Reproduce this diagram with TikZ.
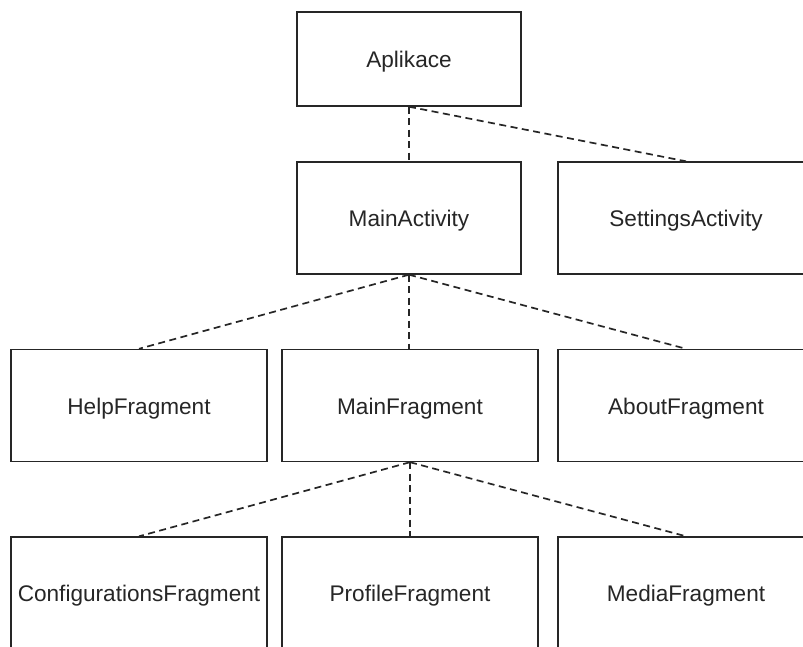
\documentclass[tikz,border=0pt]{standalone}
\usepackage{fontspec}
\setmainfont{Liberation Sans}
\begin{document}
\begin{tikzpicture}[x=1pt,y=-1pt,
  box/.style={draw=black!85, line width=1.4pt, fill=white, rectangle,
    minimum height=112pt, inner sep=0pt, font=\fontsize{22.6}{26}\selectfont,
    text=black!85, text height=19pt, text depth=2pt},
  narrow/.style={box, minimum width=224pt},
  wide/.style={box, minimum width=256pt},
  link/.style={draw=black!85, line width=1.7pt, dash pattern=on 7pt off 4.5pt}]
\useasboundingbox (0,0) rectangle (803,646);
\clip (0,0) rectangle (803,646);

% application root
\node[narrow, minimum height=94pt] (app) at (409,59) {Aplikace};

% activities
\node[narrow] (main) at (409,218) {MainActivity};
\node[wide] (settings) at (686,218) {SettingsActivity};

% fragments of the main activity
\node[wide] (help) at (139,405.5) {HelpFragment};
\node[wide] (mainfrag) at (410,405.5) {MainFragment};
\node[wide] (about) at (686,405.5) {AboutFragment};

% fragments of the main fragment
\node[wide] (config) at (139,593) {ConfigurationsFragment};
\node[wide] (profile) at (410,593) {ProfileFragment};
\node[wide] (media) at (686,593) {MediaFragment};

% hierarchy links
\draw[link] (app.south) -- (main.north);
\draw[link] (app.south) -- (settings.north);
\draw[link] (main.south) -- (help.north);
\draw[link] (main.south) -- (main.south |- mainfrag.north);
\draw[link] (main.south) -- (about.north);
\draw[link] (mainfrag.south) -- (config.north);
\draw[link] (mainfrag.south) -- (profile.north);
\draw[link] (mainfrag.south) -- (media.north);
\end{tikzpicture}
\end{document}
